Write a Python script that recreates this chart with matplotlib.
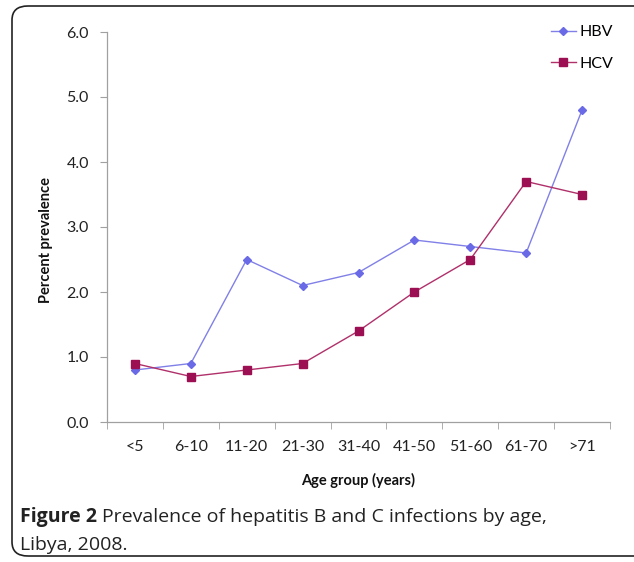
import matplotlib
matplotlib.use("Agg")
import matplotlib.pyplot as plt
from matplotlib.patches import FancyBboxPatch
from matplotlib.ticker import FixedLocator, NullFormatter
import numpy as np

ages = ['<5', '6-10', '11-20', '21-30', '31-40', '41-50', '51-60', '61-70', '>71']
hbv = [0.8, 0.9, 2.5, 2.1, 2.3, 2.8, 2.7, 2.6, 4.8]
hcv = [0.9, 0.7, 0.8, 0.9, 1.4, 2.0, 2.5, 3.7, 3.5]
yticks = [0.0, 1.0, 2.0, 3.0, 4.0, 5.0, 6.0]

plt.rcParams['font.family'] = ['Lato', 'DejaVu Sans']
cap_font = ['Open Sans', 'DejaVu Sans']

fig = plt.figure(figsize=(6.34, 5.62), dpi=100)
ax = fig.add_axes([107/634, 1-422/562, (610-107)/634, (422-32)/562])

x = np.arange(len(ages))
ax.plot(x, hbv, color='#8080e8', lw=1.0, marker='D', ms=4.5,
        mfc='#6a6ae6', mec='#6a6ae6', label='HBV')
ax.plot(x, hcv, color='#b0306a', lw=1.0, marker='s', ms=5.5,
        mfc='#9c0f52', mec='#9c0f52', label='HCV')

ax.set_xlim(-0.5, len(ages) - 0.5)
ax.set_ylim(0, 6)
ax.set_yticks(yticks)
ax.set_yticklabels(['%.1f' % v for v in yticks], fontsize=11.5, color='#222222')
ax.set_xticks(x)
ax.set_xticklabels(ages, fontsize=11.5, color='#222222')
ax.xaxis.set_minor_locator(FixedLocator(np.arange(-0.5, len(ages), 1.0)))
ax.xaxis.set_minor_formatter(NullFormatter())
ax.tick_params(axis='x', which='major', length=0, pad=13)
ax.tick_params(axis='x', which='minor', length=5, color='#a0a0a0', direction='out')
ax.tick_params(axis='y', length=5, color='#a0a0a0', pad=8)

for s in ['top', 'right']:
    ax.spines[s].set_visible(False)
for s in ['left', 'bottom']:
    ax.spines[s].set_color('#a0a0a0')
    ax.spines[s].set_linewidth(0.9)

fig.text(358/634, 1-480/562, 'Age group (years)', ha='center', va='center',
         fontsize=10.5, fontweight='bold', color='#111111')
fig.text(46/634, 1-240/562, 'Percent prevalence', ha='center', va='center',
         rotation=90, fontsize=10.5, fontweight='bold', color='#111111')

leg = ax.legend(loc='upper right', bbox_to_anchor=(1.035, 1.055), frameon=False,
                fontsize=11.5, handlelength=1.6, labelspacing=1.1,
                handletextpad=0.2)

# caption: bold "Figure 2" followed by normal text
t1 = fig.text(20/634, 1-517/562, 'Figure 2', ha='left', va='center', fontsize=14,
              fontweight='bold', family=cap_font, color='#222222')
r = fig.canvas.get_renderer()
bb = t1.get_window_extent(renderer=r)
fig.text((bb.x1 + 5)/634, 1-517/562,
         'Prevalence of hepatitis B and C infections by age,',
         ha='left', va='center', fontsize=14, family=cap_font, color='#222222')
fig.text(20/634, 1-545/562, 'Libya, 2008.', ha='left', va='center', fontsize=14,
         family=cap_font, color='#222222')

frame = FancyBboxPatch((12/634, 6/562), 640/634, 550/562,
                       boxstyle='round,pad=0,rounding_size=0.025',
                       transform=fig.transFigure, fill=False,
                       edgecolor='#222222', lw=1.2, clip_on=False)
fig.patches.append(frame)

fig.savefig('out.png', dpi=100)
